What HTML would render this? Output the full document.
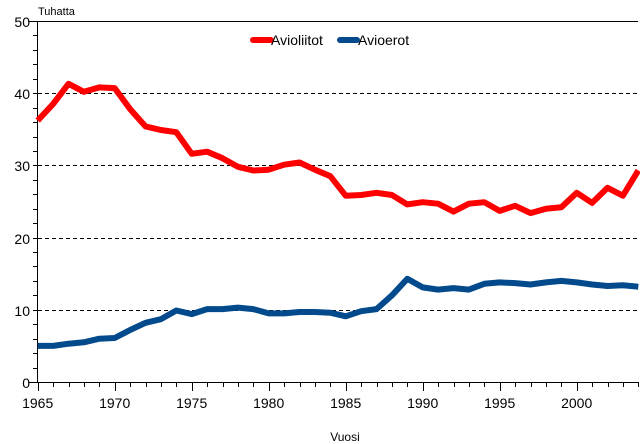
<!DOCTYPE html>
<html><head><meta charset="utf-8"><style>
html,body{margin:0;padding:0;background:#fff;}
svg{display:block;font-family:"Liberation Sans",sans-serif;}
</style></head><body>
<svg id="c" width="640" height="444" xmlns="http://www.w3.org/2000/svg">
<g id="grid" stroke="#000" stroke-width="1" stroke-dasharray="4,3" shape-rendering="crispEdges">
<line x1="38" y1="310.5" x2="638" y2="310.5"/>
<line x1="38" y1="238.5" x2="638" y2="238.5"/>
<line x1="38" y1="165.5" x2="638" y2="165.5"/>
<line x1="38" y1="93.5" x2="638" y2="93.5"/>
</g>
<g stroke="#000" stroke-width="1" shape-rendering="crispEdges">
<line x1="28" y1="21.5" x2="638" y2="21.5"/>
<line x1="37.5" y1="21" x2="37.5" y2="382"/>
<line x1="28" y1="382.5" x2="638" y2="382.5"/>
<g id="ticks"></g>
</g>
<g font-size="14" fill="#000" text-anchor="end">
<text x="30" y="388">0</text><text x="30" y="316">10</text><text x="30" y="244">20</text>
<text x="30" y="171">30</text><text x="30" y="99">40</text><text x="30" y="27">50</text>
</g>
<text x="38" y="15" font-size="11">Tuhatta</text>
<g font-size="14" text-anchor="middle" id="xl"></g>
<text x="345" y="441" font-size="12" text-anchor="middle">Vuosi</text>
<polyline id="r" fill="none" stroke="#ff0000" stroke-width="6" stroke-linejoin="round"/>
<polyline id="b" fill="none" stroke="#034a8c" stroke-width="6" stroke-linejoin="round"/>
<line x1="253" y1="40" x2="271" y2="40" stroke="#ff0000" stroke-width="6" stroke-linecap="round"/>
<text x="271" y="45" font-size="14">Avioliitot</text>
<line x1="340" y1="40" x2="357" y2="40" stroke="#034a8c" stroke-width="6" stroke-linecap="round"/>
<text x="358" y="45" font-size="14">Avioerot</text>
</svg>
<script>
var X=function(y){return 37.7+(y-1965)*15.4;};
var Y=function(v){return 382-v*7.22;};
var r=[36.2,38.5,41.3,40.2,40.8,40.7,37.8,35.4,34.9,34.6,31.6,31.9,31.0,29.8,29.3,29.4,30.1,30.4,29.4,28.5,25.8,25.9,26.2,25.9,24.6,24.9,24.7,23.6,24.7,24.9,23.7,24.4,23.4,24.0,24.2,26.2,24.8,26.9,25.8,29.3];
var b=[5.0,5.0,5.3,5.5,6.0,6.1,7.2,8.2,8.7,9.9,9.4,10.1,10.1,10.3,10.1,9.5,9.5,9.7,9.7,9.6,9.1,9.8,10.1,12.0,14.3,13.1,12.8,13.0,12.8,13.6,13.8,13.7,13.5,13.8,14.0,13.8,13.5,13.3,13.4,13.2];
function pts(a){return a.map(function(v,i){return X(1965+i).toFixed(1)+','+Y(v).toFixed(1);}).join(' ');}
document.getElementById('r').setAttribute('points',pts(r));
document.getElementById('b').setAttribute('points',pts(b));
var t='',xl='';
for(var y=1965;y<=2004;y++){var x=Math.round(X(y))+0.5;t+='<line x1="'+x+'" y1="382" x2="'+x+'" y2="'+(y%5==0?391:387)+'"/>';
if(y%5==0)xl+='<text x="'+X(y)+'" y="408">'+y+'</text>';}
for(var v=0;v<50;v+=2){var yy=Math.round(Y(v))+0.5;t+='<line x1="33" y1="'+yy+'" x2="37" y2="'+yy+'"/>';}
document.getElementById('ticks').innerHTML=t;
document.getElementById('xl').innerHTML=xl;
</script>
</body></html>
